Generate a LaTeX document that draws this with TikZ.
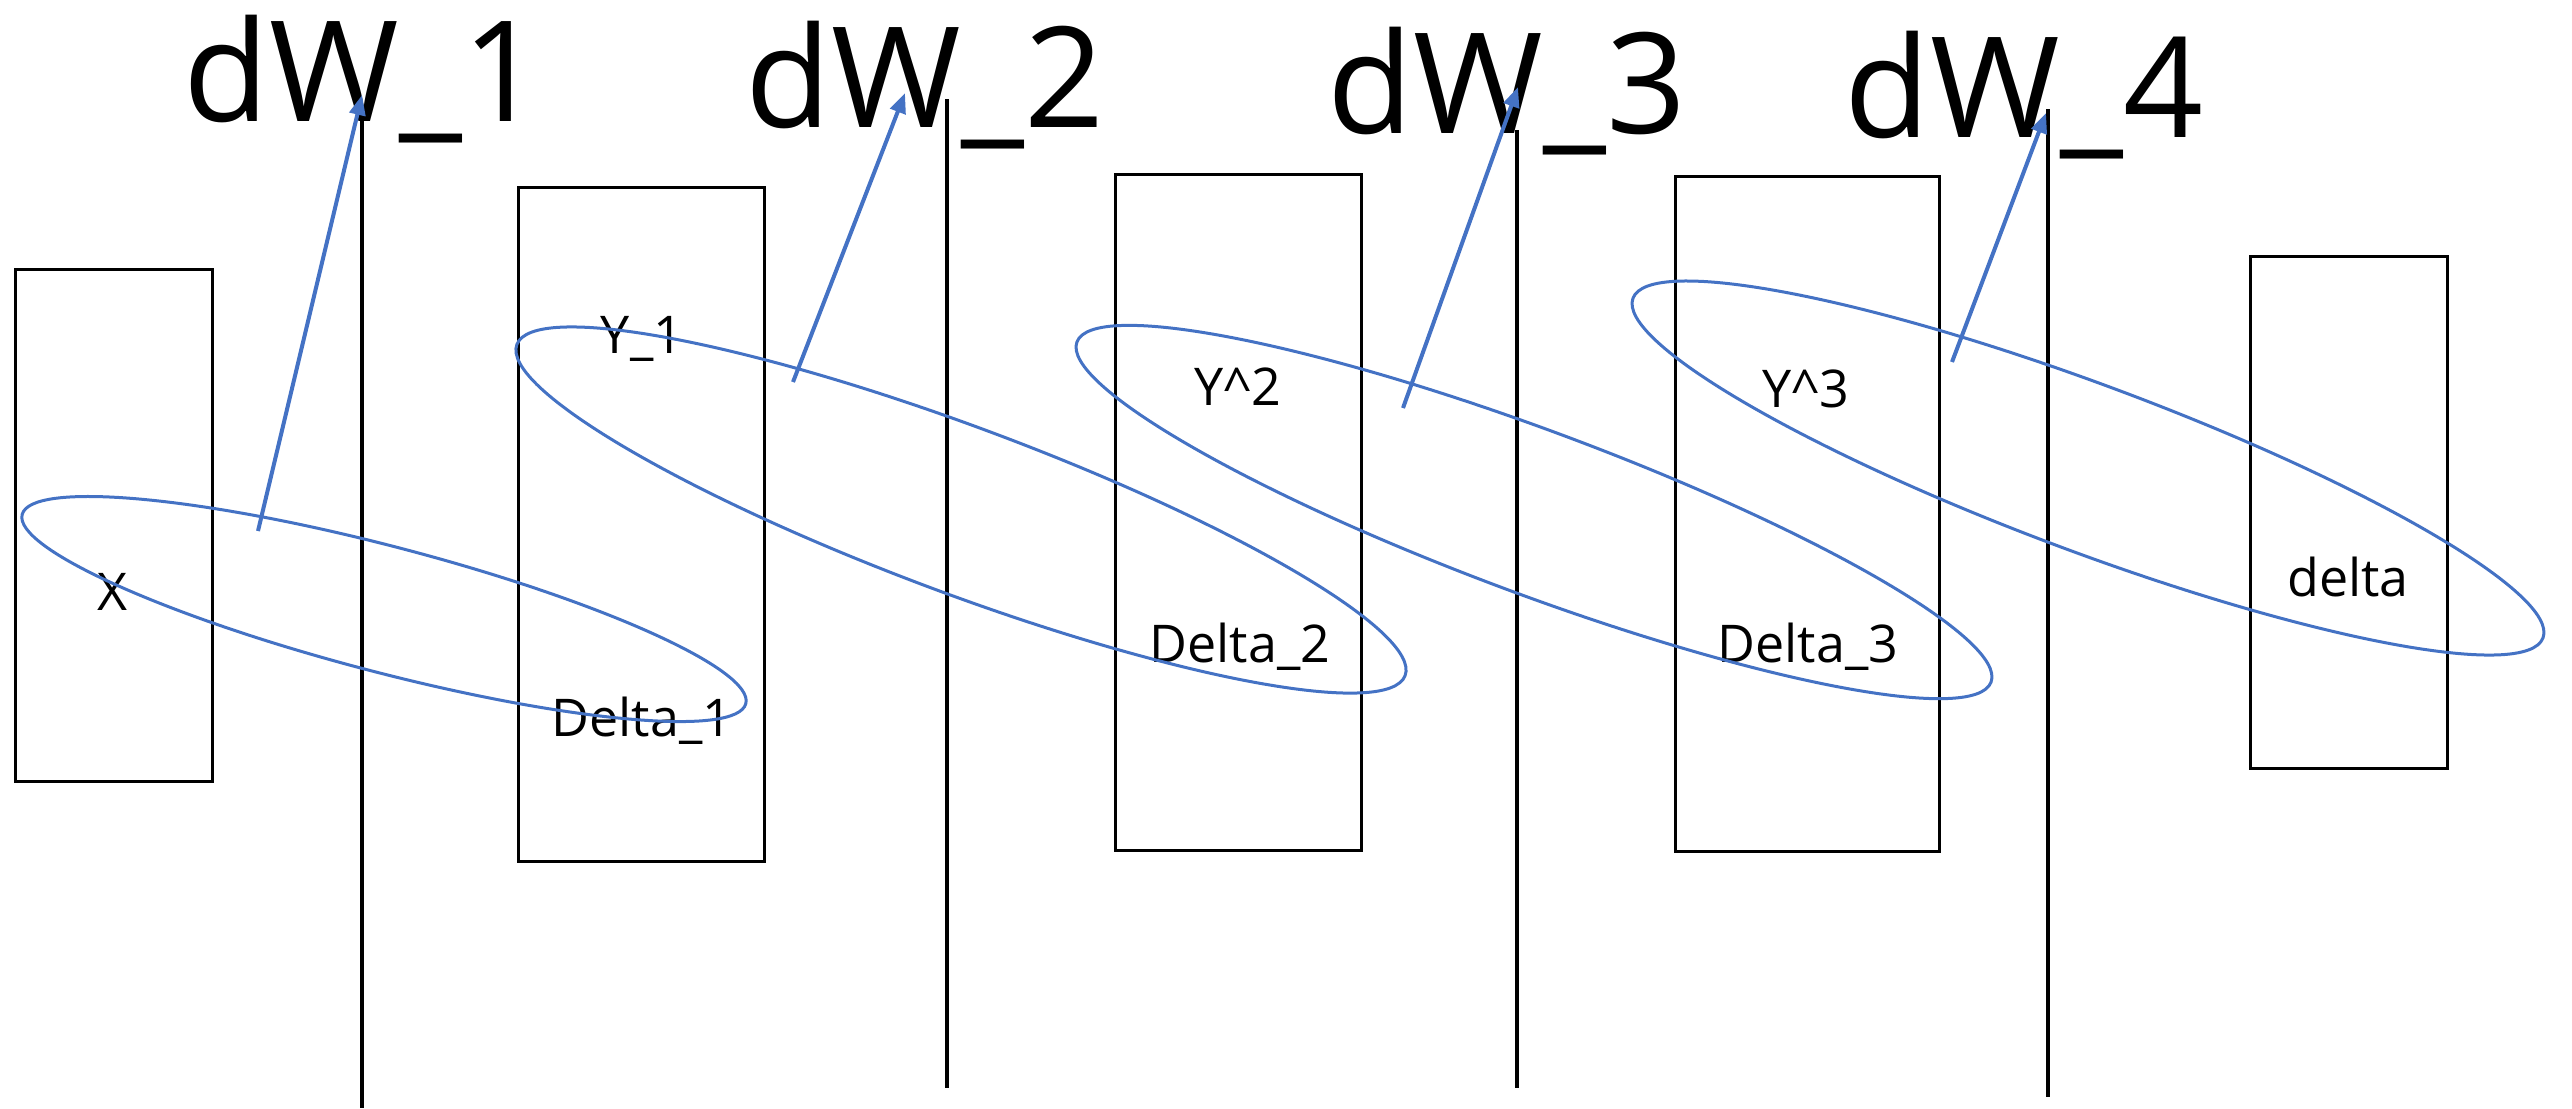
\documentclass[tikz,border=0pt]{standalone}
\usepackage{fontspec}
\setmainfont{Open Sans}
\usetikzlibrary{arrows.meta}
\definecolor{obl}{HTML}{4472C4}
\tikzset{
  box/.style={draw=black, line width=0.75pt, minimum width=#1, inner sep=0pt},
  vline/.style={draw=black, line width=1pt},
  loop/.style={draw=obl, line width=0.75pt},
  grad/.style={draw=obl, line width=1pt, -{Triangle[length=5pt,width=4pt]}},
  big/.style={font=\fontsize{35pt}{42pt}\selectfont, inner sep=0pt, anchor=base},
  small/.style={font=\fontsize{13pt}{16pt}\selectfont, inner sep=0pt, anchor=base},
}
\begin{document}
\begin{tikzpicture}[x=0.25pt,y=-0.25pt]
\useasboundingbox (0,0) rectangle (2572,1108);
% boxes
\node[box=49.25pt, minimum height=128pt] (bx) at (113.5,525) {};
\node[box=61.5pt, minimum height=168.5pt] (b1) at (641,524) {};
\node[box=61.5pt, minimum height=169pt] (b2) at (1238,512) {};
\node[box=66pt, minimum height=168.75pt] (b3) at (1807,513.5) {};
\node[box=49.25pt, minimum height=128pt] (bd) at (2348.5,512) {};
% labels
\node[big] (t1) at (363,121) {dW\_1};
\node[big] (t2) at (925,127) {dW\_2};
\node[big] (t3) at (1507,133) {dW\_3};
\node[big] (t4) at (2024,137) {dW\_4};
\node[small] (lx) at (113,610) {X};
\node[small] (ly1) at (642,353) {Y\_1};
\node[small] (ld1) at (642,736) {Delta\_1};
\node[small] (ly2) at (1238,405) {Y\^{}2};
\node[small] (ld2) at (1240,662) {Delta\_2};
\node[small] (ly3) at (1806,407) {Y\^{}3};
\node[small] (ld3) at (1808,662) {Delta\_3};
\node[small] (ldl) at (2348,596) {delta};
% vertical lines
\coordinate (v1t) at (362,121); \coordinate (v1b) at (362,1108);
\coordinate (v2t) at (947,99);  \coordinate (v2b) at (947,1088);
\coordinate (v3t) at (1517,130); \coordinate (v3b) at (1517,1088);
\coordinate (v4t) at (2048,109); \coordinate (v4b) at (2048,1097);
\draw[vline] (v1t) -- (v1b);
\draw[vline] (v2t) -- (v2b);
\draw[vline] (v3t) -- (v3b);
\draw[vline] (v4t) -- (v4b);
% ellipses
\draw[loop, rotate around={-14.65:(384,609)}] (384,609) ellipse [x radius=374, y radius=63];
\draw[loop, rotate around={-20.44:(961,510)}] (961,510) ellipse [x radius=474, y radius=83.4];
\draw[loop, rotate around={-20.41:(1534,512)}] (1534,512) ellipse [x radius=487.7, y radius=82];
\draw[loop, rotate around={-20.47:(2088,468)}] (2088,468) ellipse [x radius=485.7, y radius=83.5];
% gradient arrows
\coordinate (a1s) at (258,531); \coordinate (a1e) at (362,95);
\coordinate (a2s) at (793,382); \coordinate (a2e) at (905,93);
\coordinate (a3s) at (1403,408); \coordinate (a3e) at (1518,87);
\coordinate (a4s) at (1952,362); \coordinate (a4e) at (2046,113);
\draw[grad] (a1s) -- (a1e);
\draw[grad] (a2s) -- (a2e);
\draw[grad] (a3s) -- (a3e);
\draw[grad] (a4s) -- (a4e);
\end{tikzpicture}
\end{document}
